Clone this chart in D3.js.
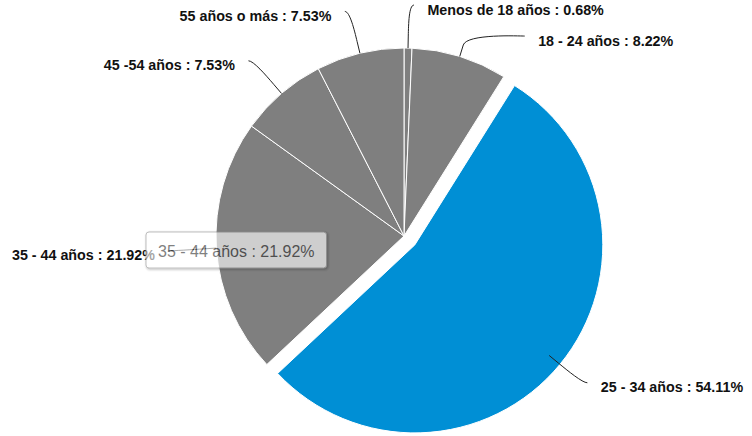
<!DOCTYPE html>
<html>
<head>
<meta charset="utf-8">
<script src="https://cdn.jsdelivr.net/npm/d3@7"></script>
<style>
  body { margin: 0; background: #ffffff; }
  svg { display: block; }
</style>
</head>
<body>
<svg id="chart" width="752" height="436"></svg>
<script>
// Age groups and their share of visitors (%)
const categories = ["Menos de 18 años", "18 - 24 años", "25 - 34 años", "35 - 44 años", "45 -54 años", "55 años o más"];
const shares = [0.68, 8.22, 54.11, 21.92, 7.53, 7.53];
const slicedCategory = "25 - 34 años";
const tooltipCategory = "35 - 44 años";

// Layout
const width = 752, height = 436;
const cx = 404, cy = 236, radius = 188, slicedOffset = 14;
const labelRadius = 231, labelGap = 31, connectorBreak = 12, textGap = 18.5;
const tooltipLeft = 146, tooltipTop = 232;
const baseColor = "#7f7f7f", slicedColor = "#008fd5";
const fontFamily = "'Liberation Sans', Arial, sans-serif";

const fmt = v => v.toFixed(2) + "%";
const data = categories.map((name, i) => ({ name, value: shares[i] }));

const svg = d3.select("#chart");
const pie = d3.pie().sort(null).value(d => d.value);
const arcs = pie(data);
const arc = d3.arc().innerRadius(0).outerRadius(radius);
const mid = d => (d.startAngle + d.endAngle) / 2;

const g = svg.append("g").attr("transform", `translate(${cx},${cy})`);

// Slices
g.selectAll("path.slice")
  .data(arcs)
  .join("path")
  .attr("class", "slice")
  .attr("d", arc)
  .attr("fill", d => d.data.name === slicedCategory ? slicedColor : baseColor)
  .attr("stroke", "#ffffff")
  .attr("stroke-width", 1)
  .attr("stroke-linejoin", "round")
  .attr("transform", d => {
    if (d.data.name !== slicedCategory) return null;
    const a = mid(d);
    return `translate(${slicedOffset * Math.sin(a)},${-slicedOffset * Math.cos(a)})`;
  });

// Label placement: anchor on a circle around the pie, pushed apart per side
const labels = arcs.map(d => {
  const a = mid(d);
  const side = Math.sin(a) >= 0 ? 1 : -1;
  return { d, a, side, y: -labelRadius * Math.cos(a) };
});
[1, -1].forEach(side => {
  const group = labels.filter(l => l.side === side).sort((p, q) => p.y - q.y);
  for (let i = 1; i < group.length; i++) {
    if (group[i].y < group[i - 1].y + labelGap) group[i].y = group[i - 1].y + labelGap;
  }
});
labels.forEach(l => {
  l.x = l.side * Math.sqrt(Math.max(0, labelRadius * labelRadius - l.y * l.y));
});

// Connectors
const connector = l => {
  const sx = Math.sin(l.a), sy = -Math.cos(l.a);
  const E = [radius * sx, radius * sy];
  const B = [(radius + connectorBreak) * sx, (radius + connectorBreak) * sy];
  const B2 = [2 * B[0] - E[0], 2 * B[1] - E[1]];
  const p = d3.path();
  p.moveTo(l.x + l.side * 5, l.y);
  p.bezierCurveTo(l.x, l.y, B2[0], B2[1], B[0], B[1]);
  p.lineTo(E[0], E[1]);
  return p.toString();
};

g.selectAll("path.connector")
  .data(labels)
  .join("path")
  .attr("class", "connector")
  .attr("d", connector)
  .attr("fill", "none")
  .attr("stroke", "#222222")
  .attr("stroke-width", 1);

g.selectAll("text.label")
  .data(labels)
  .join("text")
  .attr("class", "label")
  .attr("x", l => l.x + l.side * textGap)
  .attr("y", l => l.y + 9.5)
  .attr("text-anchor", l => l.side > 0 ? "start" : "end")
  .attr("font-family", fontFamily)
  .attr("font-size", "14.3px")
  .attr("font-weight", "bold")
  .attr("fill", "#111111")
  .text(l => `${l.d.data.name} : ${fmt(l.d.data.value)}`);

// Hover tooltip for one slice
const tipDatum = data.find(d => d.name === tooltipCategory);
const tip = svg.append("g")
  .attr("transform", `translate(${tooltipLeft},${tooltipTop})`)
  .attr("opacity", 0.62);
const tipShadow = tip.append("g").attr("transform", "translate(1,1)");
const tipRect = tip.append("rect");
const tipText = tip.append("text")
  .attr("x", 12)
  .attr("y", 24.7)
  .attr("font-family", fontFamily)
  .attr("font-size", "16px")
  .attr("fill", "#333333")
  .text(`${tipDatum.name} : ${fmt(tipDatum.value)}`);
const tw = tipText.node().getComputedTextLength() + 24, th = 36;
[5, 3, 1].forEach((w, i) => {
  tipShadow.append("rect")
    .attr("width", tw).attr("height", th).attr("rx", 3)
    .attr("fill", "none")
    .attr("stroke", "#000")
    .attr("stroke-opacity", 0.05 * (i + 1))
    .attr("stroke-width", w);
});
tipRect.attr("width", tw).attr("height", th).attr("rx", 3)
  .attr("fill", "#ffffff")
  .attr("stroke", "#999999")
  .attr("stroke-width", 1);
</script>
</body>
</html>
